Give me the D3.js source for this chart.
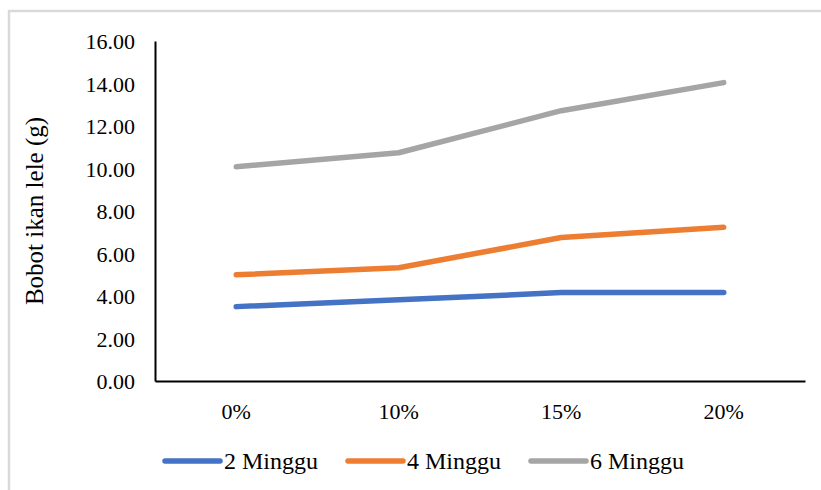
<!DOCTYPE html>
<html>
<head>
<meta charset="utf-8">
<script src="https://cdn.jsdelivr.net/npm/d3@7"></script>
<style>
  html, body { margin: 0; padding: 0; background: #fff; }
  svg { display: block; }
  svg text { fill: #000; }
</style>
</head>
<body>
<svg id="chart" width="821" height="490"></svg>
<script>
// Dosage levels on the x axis
const categories = ["0%", "10%", "15%", "20%"];
// Fish weight (g) after each growth period
const series2Minggu = [3.50, 3.82, 4.16, 4.16];
const series4Minggu = [5.00, 5.33, 6.75, 7.23];
const series6Minggu = [10.08, 10.74, 12.72, 14.04];
const seriesNames = ["2 Minggu", "4 Minggu", "6 Minggu"];
const yTicks = [0, 2, 4, 6, 8, 10, 12, 14, 16];

const seriesColors = ["#4472C4", "#ED7D31", "#A5A5A5"];
const series = [series2Minggu, series4Minggu, series6Minggu].map((vals, i) => ({
  name: seriesNames[i],
  color: seriesColors[i],
  values: vals
}));

const FONT = "'Liberation Serif', Tinos, 'Times New Roman', Times, 'DejaVu Serif', serif";

const svg = d3.select("#chart");
const W = 821, H = 490;
const plot = { left: 155, right: 805, top: 41, bottom: 381 };

// Outer chart border
svg.append("rect")
  .attr("x", 9).attr("y", 11)
  .attr("width", W + 10).attr("height", H + 10)
  .attr("fill", "none")
  .attr("stroke", "#d9d9d9")
  .attr("stroke-width", 2.5);

const x = d3.scaleBand().domain(categories).range([plot.left, plot.right]);
const y = d3.scaleLinear().domain([0, 16]).range([plot.bottom, plot.top]);

// Y axis: line plus labels
const yAxis = svg.append("g")
  .attr("transform", `translate(${plot.left},0)`)
  .call(d3.axisLeft(y).tickValues(yTicks).tickSize(0).tickPadding(20)
    .tickFormat(d => d3.format(".2f")(d)));
yAxis.attr("font-family", FONT).attr("font-size", 22);
yAxis.select(".domain").attr("stroke", "#000").attr("stroke-width", 2);
yAxis.selectAll("text").attr("dy", "0.35em");

// X axis: line plus category labels
const xAxis = svg.append("g")
  .attr("transform", `translate(0,${plot.bottom})`)
  .call(d3.axisBottom(x).tickSize(0).tickPadding(22));
xAxis.attr("font-family", FONT).attr("font-size", 22);
xAxis.select(".domain").attr("stroke", "#000").attr("stroke-width", 2);

// Y axis title
svg.append("text")
  .attr("transform", `translate(43,${(plot.top + plot.bottom) / 2 + 0}) rotate(-90)`)
  .attr("text-anchor", "middle")
  .attr("font-family", FONT)
  .attr("font-size", 25)
  .text("Bobot ikan lele (g)");

// Series lines
const line = d3.line()
  .x((d, i) => x(categories[i]) + x.bandwidth() / 2)
  .y(d => y(d));

svg.append("g").selectAll("path")
  .data(series)
  .join("path")
  .attr("d", d => line(d.values))
  .attr("fill", "none")
  .attr("stroke", d => d.color)
  .attr("stroke-width", 5.5)
  .attr("stroke-linecap", "round")
  .attr("stroke-linejoin", "round");

// Legend
const legendX = [165, 348, 531];
const legend = svg.append("g")
  .attr("font-family", FONT)
  .attr("font-size", 24)
  .selectAll("g")
  .data(series)
  .join("g")
  .attr("transform", (d, i) => `translate(${legendX[i]},461)`);
legend.append("line")
  .attr("x1", 0).attr("x2", 55)
  .attr("stroke", d => d.color)
  .attr("stroke-width", 5.5)
  .attr("stroke-linecap", "round");
legend.append("text")
  .attr("x", 59).attr("dy", "0.35em")
  .text(d => d.name);
</script>
</body>
</html>
